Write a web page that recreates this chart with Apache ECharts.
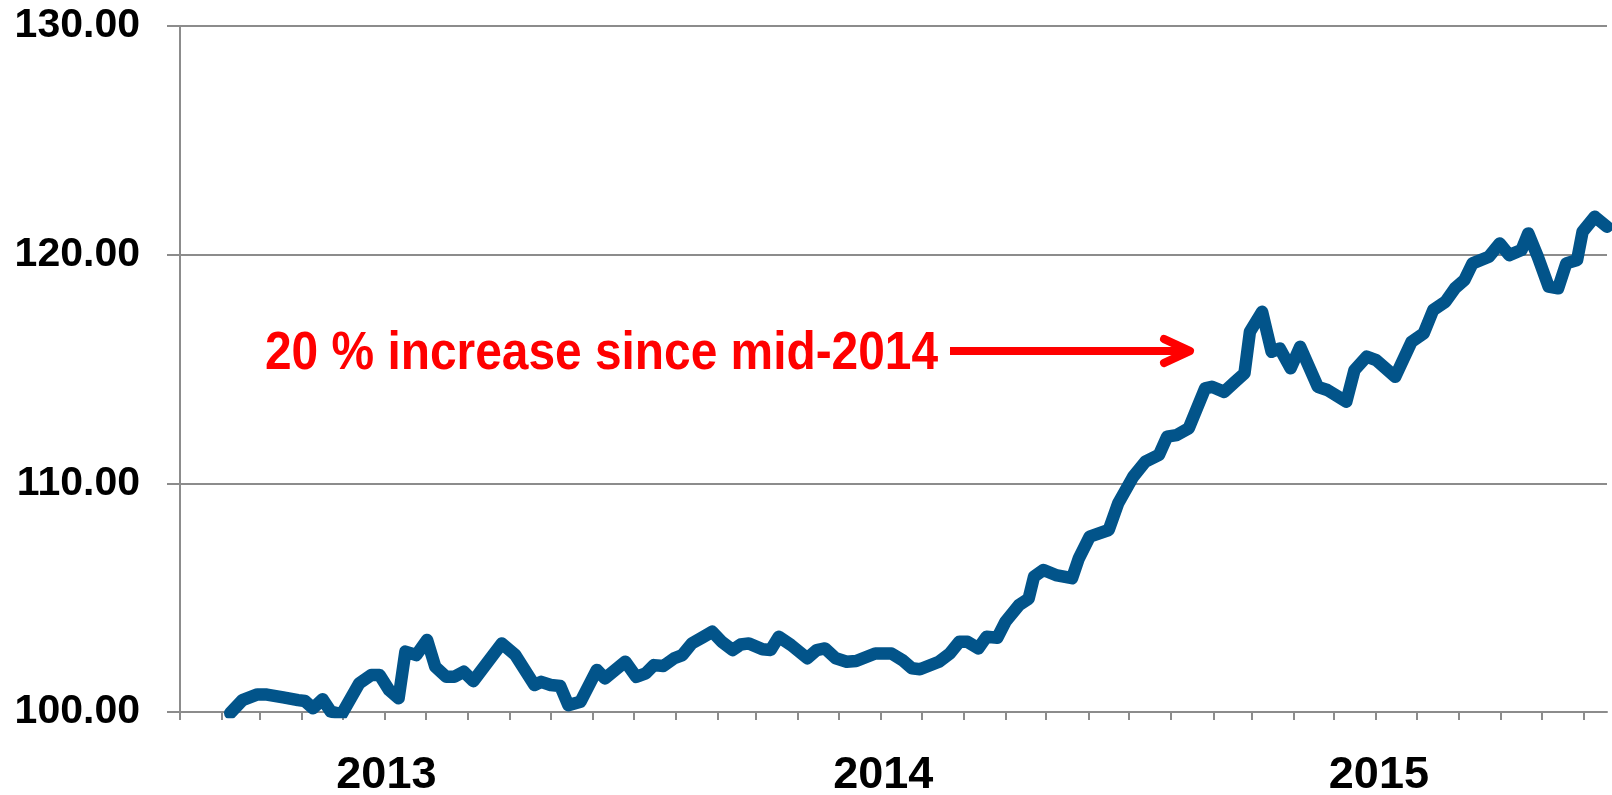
<!DOCTYPE html>
<html>
<head>
<meta charset="utf-8">
<title>Index 2013-2015</title>
<script src="https://cdn.jsdelivr.net/npm/echarts@6/dist/echarts.min.js"></script>
<style>
html,body{margin:0;padding:0;background:#fff;}
#main{width:1612px;height:795px;}
</style>
</head>
<body>
<div id="main"></div>
<script>
//日期 (roughly weekly)
var dates = [
	'2013-02-07','2013-02-16','2013-02-27','2013-03-06','2013-03-18','2013-03-29','2013-04-03','2013-04-09',
	'2013-04-16','2013-04-22','2013-04-30','2013-05-13','2013-05-22','2013-05-28','2013-06-04','2013-06-11',
	'2013-06-16','2013-06-24','2013-07-02','2013-07-08','2013-07-16','2013-07-22','2013-07-29','2013-08-05',
	'2013-08-26','2013-09-05','2013-09-19','2013-09-24','2013-10-01','2013-10-08','2013-10-14','2013-10-23',
	'2013-11-04','2013-11-10','2013-11-25','2013-12-03','2013-12-10','2013-12-16','2013-12-23','2013-12-31',
	'2014-01-06','2014-01-13','2014-01-21','2014-01-28','2014-02-04','2014-02-12','2014-02-18','2014-02-24',
	'2014-03-06','2014-03-12','2014-03-18','2014-03-27','2014-04-08','2014-04-15','2014-04-21','2014-04-29',
	'2014-05-07','2014-05-14','2014-05-28','2014-06-09','2014-06-17','2014-06-24','2014-06-30','2014-07-14',
	'2014-07-22','2014-07-29','2014-08-04','2014-08-12','2014-08-18','2014-08-26','2014-09-01','2014-09-11',
	'2014-09-18','2014-09-22','2014-09-29','2014-10-08','2014-10-20','2014-10-25','2014-11-02','2014-11-16',
	'2014-11-23','2014-12-04','2014-12-13','2014-12-23','2014-12-29','2015-01-05','2015-01-14','2015-01-26',
	'2015-01-31','2015-02-09','2015-02-17','2015-02-24','2015-02-28','2015-03-09','2015-03-16','2015-03-22',
	'2015-03-30','2015-04-06','2015-04-19','2015-04-26','2015-05-10','2015-05-16','2015-05-25','2015-06-01',
	'2015-06-15','2015-06-27','2015-07-06','2015-07-13','2015-07-22','2015-07-29','2015-08-05','2015-08-11',
	'2015-08-23','2015-08-31','2015-09-07','2015-09-16','2015-09-21','2015-09-28','2015-10-06','2015-10-13',
	'2015-10-19','2015-10-27','2015-10-31','2015-11-09','2015-11-18'
];
//指数值
var values = [
	99.95,100.52,100.77,100.76,100.64,100.52,100.48,100.16,
	100.56,100.02,99.90,101.25,101.62,101.62,100.96,100.60,
	102.64,102.49,103.15,101.98,101.54,101.54,101.76,101.35,
	103.00,102.49,101.18,101.32,101.18,101.14,100.30,100.45,
	101.84,101.47,102.20,101.54,101.69,102.05,102.01,102.35,
	102.49,103.00,103.27,103.51,103.07,102.71,102.95,103.00,
	102.74,102.71,103.29,102.93,102.35,102.71,102.78,102.35,
	102.20,102.23,102.56,102.56,102.27,101.91,101.87,102.20,
	102.56,103.07,103.07,102.78,103.29,103.25,103.95,104.68,
	104.95,105.92,106.21,105.99,105.85,106.72,107.67,107.96,
	109.13,110.29,110.95,111.24,112.04,112.11,112.41,114.15,
	114.22,114.00,114.44,114.81,116.63,117.50,115.75,115.90,
	115.03,115.97,114.22,114.08,113.57,114.95,115.54,115.39,
	114.66,116.19,116.56,117.58,117.94,118.53,118.89,119.62,
	119.91,120.49,119.98,120.20,120.93,119.91,118.60,118.53,
	119.62,119.77,121.00,121.66,121.22
];
var yearLabels = ['2013','2014','2015'];
var yearLabelDates = ['2013-06-02','2014-06-03','2015-06-03'];
var axisStart = '2013-01-01';
var axisEnd = '2015-11-18';
var yTicks = [100, 110, 120, 130];
var noteText = '20 % increase since mid-2014';

//把日期字符串换成天数 (从 axisStart 算起)
var DAY = 86400000;
function toDay(s){
	var p = s.split('-');
	var q = axisStart.split('-');
	return Math.round((Date.UTC(+p[0], +p[1] - 1, +p[2]) - Date.UTC(+q[0], +q[1] - 1, +q[2])) / DAY);
}

var chart = echarts.init(document.getElementById('main'));

//每月一个刻度
var monthTicks = [];
for (var y = 2013; y <= 2015; y++) {
	for (var m = 1; m <= 12; m++) {
		var d = toDay(y + '-' + m + '-1');
		if (d <= toDay(axisEnd)) monthTicks.push(d);
	}
}
var yearDays = [];
for (var i = 0; i < yearLabelDates.length; i++) yearDays.push(toDay(yearLabelDates[i]));

var seriesData = [];
for (var i = 0; i < dates.length; i++) {
	seriesData.push([toDay(dates[i]), values[i]]);
}

var gray = '#8c8c8c';
var font = '"Liberation Sans", Arial, sans-serif';

var option = {
	animation: false,
	backgroundColor: '#fff',
	grid: {left: 180, right: 5, top: 26, bottom: 83, outerBoundsMode: 'none'},
	xAxis: {
		type: 'value',
		min: 0,
		max: toDay(axisEnd),
		axisLine: {show: true, lineStyle: {color: gray, width: 2}},
		axisTick: {show: true, length: 8, customValues: monthTicks, lineStyle: {color: gray, width: 2}},
		axisLabel: {
			customValues: yearDays,
			margin: 41,
			fontSize: 45,
			fontWeight: 'bold',
			fontFamily: font,
			color: '#000',
			formatter: function (val) {
				var k = yearDays.indexOf(val);
				return k >= 0 ? yearLabels[k] : '';
			}
		},
		splitLine: {show: false}
	},
	yAxis: {
		type: 'value',
		min: yTicks[0],
		max: yTicks[yTicks.length - 1],
		interval: 10,
		axisLine: {show: true, lineStyle: {color: gray, width: 2}},
		axisTick: {show: true, inside: false, length: 13, lineStyle: {color: gray, width: 2}},
		axisLabel: {
			margin: 40,
			fontSize: 41,
			fontWeight: 'bold',
			fontFamily: font,
			color: '#000',
			formatter: function (v) { return v.toFixed(2); }
		},
		splitLine: {show: true, lineStyle: {color: gray, width: 2}}
	},
	series: [{
		type: 'line',
		data: seriesData,
		showSymbol: false,
		symbol: 'none',
		lineStyle: {color: '#02548a', width: 12.5, join: 'round', cap: 'round'},
		clip: true
	}],
	graphic: [
		{
			//注释文字
			type: 'text',
			left: 265,
			top: 328,
			style: {
				text: noteText,
				fill: '#ff0000',
				font: 'bold 53px ' + font
			},
			scaleX: 0.903
		},
		{
			type: 'line',
			shape: {x1: 950, y1: 351, x2: 1188, y2: 351},
			style: {stroke: '#ff0000', lineWidth: 8}
		},
		{
			type: 'polyline',
			shape: {points: [[1164, 339], [1190, 351], [1164, 363]]},
			style: {stroke: '#ff0000', lineWidth: 8, lineCap: 'round', lineJoin: 'round', fill: null}
		}
	]
};
chart.setOption(option);
</script>
</body>
</html>
